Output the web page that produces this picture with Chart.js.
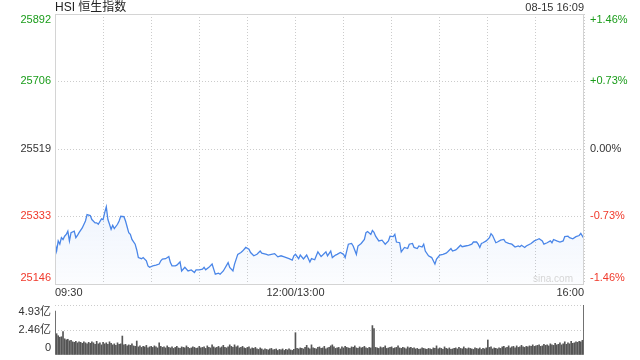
<!DOCTYPE html>
<html>
<head>
<meta charset="utf-8">
<script src="https://cdn.jsdelivr.net/npm/chart.js@4.4.1/dist/chart.umd.min.js"></script>
<style>
   html, body { margin: 0; padding: 0; background: #fff; }
   #wrap { position: relative; width: 640px; height: 360px; }
   #boxPrice { position: absolute; left: 0; top: 0; width: 640px; height: 300px; }
   #boxVol { position: absolute; left: 0; top: 300px; width: 640px; height: 60px; }
</style>
</head>
<body>
<div id="wrap">
   <div id="boxPrice"><canvas id="canvasPrice"></canvas></div>
   <div id="boxVol"><canvas id="canvasVol"></canvas></div>
</div>
<script>

/* chart text */
const title = "HSI 恒生指数";
const stamp = "08-15 16:09";

/* price axis */
const prevClose = 25519;
const priceTicks = [25146, 25333, 25519, 25706, 25892];
const pctLabels = ["-1.46%", "-0.73%", "0.00%", "+0.73%", "+1.46%"];

/* time axis, minutes from 09:30 (lunch break removed) */
const timeTicks = [0, 150, 330];
const timeLabels = ["09:30", "12:00/13:00", "16:00"];

/* index line */
const minutes = [
   0, 1, 2, 3, 4, 5, 6, 7, 8, 9, 10, 12, 13, 14, 15, 17, 19, 20, 22, 23, 25, 26, 27, 29, 30, 31,
   32, 33, 34, 35, 36, 37, 39, 40, 41, 43, 44, 46, 47, 48, 50, 51, 52, 54, 55, 57, 58, 59, 61, 63, 65, 66,
   67, 69, 71, 72, 73, 75, 76, 78, 79, 81, 83, 85, 87, 88, 90, 92, 93, 94, 96, 98,
   99, 100, 102, 103, 105, 108, 109, 111, 112, 114, 116, 117, 119, 121, 122, 124, 126, 128, 129, 132,
   133, 135, 137, 139, 141, 143, 146, 148, 149, 150, 152, 153, 155, 157, 159, 160, 162, 163, 164, 166,
   167, 169, 170, 172, 173, 175, 176, 178, 180, 181, 183, 185, 186, 188, 189, 191, 193, 194, 195, 197, 198,
   199, 200, 202, 204, 206, 208, 209, 211, 212, 213, 215, 216, 218, 220, 221, 223, 224, 226, 227, 229,
   230, 231, 233, 235, 236, 237, 238, 240, 242, 244, 245, 247, 248, 250, 251, 253, 254, 256, 258, 260, 261, 263,
   264, 265, 266, 267, 269, 271, 272, 273, 275, 276, 278, 280, 281, 283, 285, 287, 289, 290, 291, 293,
   294, 297, 299, 301, 302, 304, 305, 307, 309, 310, 311, 313, 315, 317, 318, 320, 321, 323, 325, 327, 328, 330
];
const prices = [
   25260, 25237, 25265, 25256, 25274, 25269, 25278, 25283, 25292, 25265, 25288, 25292, 25274, 25280, 25288, 25301, 25320, 25338, 25335, 25324, 25315, 25315, 25311, 25326, 25324, 25343,
   25359, 25324, 25311, 25297, 25308, 25299, 25311, 25320, 25333, 25332, 25320, 25288, 25283, 25269, 25256, 25240, 25219, 25216, 25219, 25210, 25196, 25192, 25196, 25198, 25201, 25210,
   25215, 25216, 25222, 25205, 25196, 25196, 25198, 25207, 25182, 25192, 25182, 25185, 25178, 25185, 25185, 25187, 25192, 25185, 25192, 25201,
   25187, 25173, 25176, 25173, 25182, 25205, 25192, 25182, 25201, 25228, 25233, 25237, 25247, 25242, 25233, 25224, 25228, 25237, 25231, 25228,
   25226, 25228, 25230, 25221, 25224, 25221, 25216, 25212, 25224, 25228, 25216, 25226, 25215, 25226, 25207, 25216, 25213, 25224, 25235, 25222,
   25226, 25235, 25224, 25237, 25219, 25226, 25228, 25233, 25228, 25219, 25256, 25258, 25251, 25228, 25251, 25258, 25269, 25288, 25291, 25283, 25294,
   25289, 25278, 25265, 25267, 25256, 25265, 25278, 25277, 25283, 25262, 25260, 25235, 25247, 25244, 25256, 25258, 25247, 25244, 25251, 25248,
   25256, 25237, 25224, 25219, 25210, 25201, 25215, 25226, 25228, 25231, 25235, 25244, 25237, 25240, 25244, 25253, 25249, 25251, 25253, 25256, 25262, 25262,
   25256, 25247, 25258, 25260, 25265, 25274, 25285, 25280, 25260, 25262, 25267, 25269, 25262, 25258, 25256, 25248, 25251, 25249, 25253, 25247,
   25251, 25258, 25265, 25269, 25271, 25265, 25256, 25260, 25265, 25260, 25269, 25265, 25262, 25265, 25277, 25278, 25274, 25271, 25277, 25280, 25286, 25271
];

/* turnover per minute, 亿 */
const volTicks = [0, 2.46, 4.93];
const volLabels = ["0", "2.46亿", "4.93亿"];
const volumes = [
   4.34,
   2.1, 1.9, 1.75, 1.8,
   2.3,
   1.6, 1.5, 1.55, 1.4, 1.45,
   1.3, 1.25, 1.35, 1.2, 1.3, 1.25, 1.15, 1.3, 1.2, 1.1,
   1.25, 1.15, 1.3, 1.2, 1.05, 1.35, 1.1, 1.2, 1.0, 1.25,
   1.1, 1.2, 1.05, 1.3, 1.15, 1.0, 1.1, 0.95, 1.2, 1.05, 1.1,
   1.87,
   1.0, 1.05, 0.9, 1.0, 0.95, 1.1, 0.9, 0.85,
   1.38,
   0.8, 0.9, 0.75, 0.85, 0.8, 0.95, 0.7, 0.8, 0.85,
   0.75, 0.9, 0.8, 0.7, 1.2, 0.85, 0.75, 0.8, 0.7, 0.9,
   0.75, 0.7, 0.8, 0.65, 0.75, 0.85, 0.7, 0.65, 0.8, 0.75, 0.7, 0.9, 0.75, 0.65, 0.7, 0.8, 0.75, 0.65, 0.7, 0.85,
   0.7, 0.75, 0.8, 0.65, 0.9, 0.75, 0.7, 1.0, 0.8, 0.7, 0.75, 0.85, 0.7, 0.8, 0.95, 0.75, 0.7, 0.8, 1.0, 0.85,
   0.75, 1.0, 0.8, 0.9, 0.7, 0.75, 0.85, 0.7, 0.65, 0.75, 0.8, 0.6, 0.7, 0.65, 0.75, 0.6, 0.55, 0.7, 0.6, 0.5,
   0.6, 0.55, 0.5, 0.6, 0.65, 0.5, 0.55, 0.6, 0.45, 0.55, 0.5, 0.6, 0.45, 0.55, 0.5, 0.6, 0.5, 0.45, 0.55,
   2.2,
   0.65, 0.6, 0.7, 0.65, 0.6, 0.75, 0.95, 0.7, 0.6, 1.0, 0.7, 0.65, 0.6, 0.75, 0.8, 0.65, 0.7, 0.85, 0.6, 0.7,
   0.75, 0.9, 1.0, 0.8, 0.65, 0.7, 0.75, 0.6, 0.8, 0.7, 0.85, 0.75, 0.7, 0.65, 0.8, 0.75, 0.9, 0.7, 0.65, 0.8, 0.7, 0.75, 0.85, 0.7, 0.65, 0.75, 0.7,
   2.9, 2.6,
   0.75, 0.7, 0.65, 0.8, 0.7, 0.75, 0.9, 0.65, 0.7, 0.75, 0.8, 0.65, 0.7, 0.75, 0.9, 0.7, 0.65, 0.75, 0.7, 0.6, 0.8, 0.7, 0.75, 0.65, 0.7, 0.6, 0.65, 0.55, 0.6, 0.7, 0.65,
   0.6, 0.55, 0.65, 0.6, 0.55, 0.7, 0.65, 0.9, 0.6, 0.7, 0.65, 0.55, 0.8, 0.65, 0.6, 0.7, 0.55, 0.6, 0.65, 0.7, 0.6, 0.75, 0.65, 0.6, 0.8, 0.65, 0.6, 0.7, 0.65, 0.6, 0.55, 0.7, 0.65, 0.6, 0.7, 0.55, 0.65, 0.6, 0.7,
   1.48,
   0.75, 0.8, 0.6, 0.7, 0.65, 0.6, 0.7, 0.65, 0.8, 0.85, 0.7, 0.75, 0.9, 0.7, 0.8, 0.85, 0.7, 0.9, 0.75, 0.8, 0.95, 0.8, 0.75, 0.85, 0.8, 0.9, 0.85, 1.0, 0.85, 0.9,
   0.95, 1.0, 0.85, 0.9, 1.05, 0.95, 1.0, 0.9, 1.1, 1.0, 0.95, 1.15, 1.0, 1.05, 1.2, 1.0, 1.1, 1.3, 1.05, 1.2, 1.1, 1.35, 1.15, 1.2, 1.3, 1.25, 1.35, 1.3, 1.45,
   4.93
];

/* - - */
const FONT = '"Liberation Sans", Arial, "Noto Sans CJK SC", sans-serif';
const GREEN = "#1a9c1a", RED = "#f0392b", DARK = "#333", GRID = "#cccccc";

function tickColor(v) {
   if (v > prevClose) return GREEN;
   if (v < prevClose) return RED;
   return DARK;
}

/* interior grid only, the frame is drawn separately */
function innerGrid(c) {
   let n = c.chart.scales.y.ticks.length;
   return (c.index === 0 || c.index === n - 1) ? "rgba(0,0,0,0)" : GRID;
}

/* text around the price plot */
const priceText = {
   id: "priceText",
   afterDraw(chart) {
      let {ctx, chartArea: a, scales} = chart;
      ctx.save();
      /* frame */
      ctx.strokeStyle = "#d4d4d4";
      ctx.lineWidth = 1;
      ctx.strokeRect(a.left + 0.5, a.top + 0.5, a.right - a.left - 1, a.bottom - a.top);
      /* header */
      ctx.textBaseline = "middle";
      ctx.fillStyle = "#222";
      ctx.font = "12px " + FONT;
      ctx.textAlign = "left";
      ctx.fillText(title, a.left, 8);
      ctx.font = "11px " + FONT;
      ctx.textAlign = "right";
      ctx.fillStyle = DARK;
      ctx.fillText(stamp, a.right, 8);
      /* y labels, kept inside the plot height */
      ctx.font = "11px " + FONT;
      priceTicks.forEach((v, i) => {
         let y = scales.y.getPixelForValue(v);
         y = Math.min(Math.max(y, a.top + 6), a.bottom - 6);
         ctx.fillStyle = tickColor(v);
         ctx.textAlign = "right";
         ctx.fillText(String(v), a.left - 4, y);
         ctx.textAlign = "left";
         ctx.fillText(pctLabels[i], a.right + 6, y);
      });
      /* time labels */
      ctx.fillStyle = DARK;
      timeTicks.forEach((m, i) => {
         let x = scales.x.getPixelForValue(m);
         ctx.textAlign = (i === 0) ? "left" : (i === timeTicks.length - 1) ? "right" : "center";
         ctx.fillText(timeLabels[i], x, a.bottom + 9);
      });
      /* watermark */
      ctx.fillStyle = "#d6d6d6";
      ctx.font = "10px " + FONT;
      ctx.textAlign = "right";
      ctx.fillText("sina.com", a.right - 11, a.bottom - 5);
      ctx.restore();
   }
};

const volText = {
   id: "volText",
   afterDraw(chart) {
      let {ctx, chartArea: a, scales} = chart;
      ctx.save();
      ctx.font = "11px " + FONT;
      ctx.fillStyle = DARK;
      ctx.textAlign = "right";
      ctx.textBaseline = "middle";
      volTicks.forEach((v, i) => {
         let y = scales.y.getPixelForValue(v);
         y = Math.min(Math.max(y, a.top + 7), a.bottom - 7);
         ctx.fillText(volLabels[i], a.left - 4, y);
      });
      ctx.restore();
   }
};

/* - - */
let points = minutes.map((m, i) => ({x: m, y: prices[i]}));

let priceConf = {
   type: "line",
   data: {
      datasets: [{
         data: points,
         borderColor: "#4a86e8",
         borderWidth: 1.3,
         pointRadius: 0,
         tension: 0,
         fill: "start",
         backgroundColor: (c) => {
            let a = c.chart.chartArea;
            if (!a) return "rgba(74,134,232,0.08)";
            let g = c.chart.ctx.createLinearGradient(0, a.top, 0, a.bottom);
            g.addColorStop(0, "rgba(74,134,232,0.20)");
            g.addColorStop(0.7, "rgba(74,134,232,0.09)");
            g.addColorStop(1, "rgba(74,134,232,0.02)");
            return g;
         }
      }]
   },
   options: {
      responsive: true,
      maintainAspectRatio: false,
      devicePixelRatio: 1,
      animation: false,
      layout: {padding: {top: 14, left: 0, right: 0, bottom: 0}},
      plugins: {legend: {display: false}, tooltip: {enabled: false}},
      scales: {
         x: {
            type: "linear",
            min: 0,
            max: 330,
            ticks: {display: false, stepSize: 30},
            grid: {color: GRID, drawTicks: false},
            border: {display: false, dash: [1, 2]},
            afterFit: (s) => { s.height = 16; }
         },
         y: {
            position: "left",
            min: priceTicks[0],
            max: priceTicks[priceTicks.length - 1],
            afterBuildTicks: (s) => { s.ticks = priceTicks.map(v => ({value: v})); },
            ticks: {display: false},
            grid: {color: innerGrid, drawTicks: false},
            border: {display: false, dash: [1, 2]},
            afterFit: (s) => { s.width = 55; }
         },
         y2: {
            position: "right",
            min: priceTicks[0],
            max: priceTicks[priceTicks.length - 1],
            ticks: {display: false},
            grid: {display: false},
            border: {display: false},
            afterFit: (s) => { s.width = 56; }
         }
      }
   },
   plugins: [priceText]
};

let volConf = {
   type: "bar",
   data: {
      labels: volumes.map((v, i) => i),
      datasets: [{
         data: volumes,
         backgroundColor: "#555",
         barThickness: 1,
         categoryPercentage: 1,
         barPercentage: 1
      }]
   },
   options: {
      responsive: true,
      maintainAspectRatio: false,
      devicePixelRatio: 1,
      animation: false,
      layout: {padding: {top: 5, left: 55, right: 56, bottom: 5}},
      plugins: {legend: {display: false}, tooltip: {enabled: false}},
      scales: {
         x: {display: false, offset: false},
         y: {
            min: 0,
            max: volTicks[volTicks.length - 1],
            afterBuildTicks: (s) => { s.ticks = volTicks.map(v => ({value: v})); },
            ticks: {display: false},
            grid: {color: (c) => c.index === 0 ? "rgba(0,0,0,0)" : GRID, drawTicks: false},
            border: {display: false, dash: [1, 2]},
            afterFit: (s) => { s.width = 0; }
         }
      }
   },
   plugins: [volText]
};

new Chart(document.getElementById("canvasPrice"), priceConf);
new Chart(document.getElementById("canvasVol"), volConf);
</script>
</body>
</html>
